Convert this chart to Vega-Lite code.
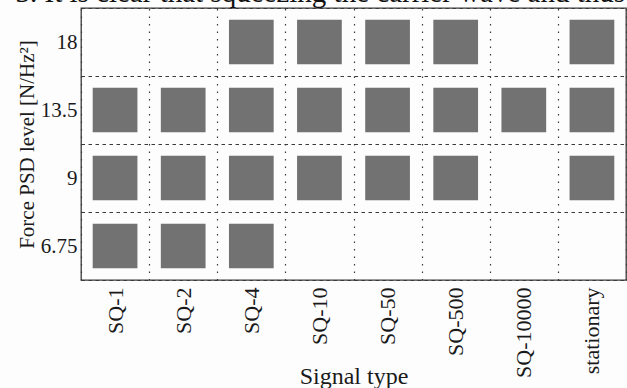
{
  "$schema": "https://vega.github.io/schema/vega-lite/v6.json",
  "width": 545,
  "height": 272,
  "autosize": {"type": "none"},
  "padding": {"left": 81, "top": 8, "right": 1, "bottom": 108},
  "background": "#fdfdfd",
  "config": {
    "view": {"stroke": "#3a3a3a", "strokeWidth": 1.3},
    "axis": {
      "labelFont": "Liberation Serif",
      "titleFont": "Liberation Serif",
      "labelColor": "#1a1a1a",
      "titleColor": "#1a1a1a",
      "titleFontWeight": "normal",
      "domain": false,
      "ticks": false,
      "tickBand": "extent",
      "gridColor": "#3a3a3a",
      "gridOpacity": 1,
      "gridWidth": 1.2
    }
  },
  "data": {
    "values": [
      {"signal": "SQ-4", "level": 18},
      {"signal": "SQ-10", "level": 18},
      {"signal": "SQ-50", "level": 18},
      {"signal": "SQ-500", "level": 18},
      {"signal": "stationary", "level": 18},
      {"signal": "SQ-1", "level": 13.5},
      {"signal": "SQ-2", "level": 13.5},
      {"signal": "SQ-4", "level": 13.5},
      {"signal": "SQ-10", "level": 13.5},
      {"signal": "SQ-50", "level": 13.5},
      {"signal": "SQ-500", "level": 13.5},
      {"signal": "SQ-10000", "level": 13.5},
      {"signal": "stationary", "level": 13.5},
      {"signal": "SQ-1", "level": 9},
      {"signal": "SQ-2", "level": 9},
      {"signal": "SQ-4", "level": 9},
      {"signal": "SQ-10", "level": 9},
      {"signal": "SQ-50", "level": 9},
      {"signal": "SQ-500", "level": 9},
      {"signal": "stationary", "level": 9},
      {"signal": "SQ-1", "level": 6.75},
      {"signal": "SQ-2", "level": 6.75},
      {"signal": "SQ-4", "level": 6.75}
    ]
  },
  "encoding": {
    "y": {
      "field": "level",
      "type": "ordinal",
      "sort": "descending",
      "scale": {"type": "band", "paddingInner": 0, "paddingOuter": 0},
      "axis": {
        "title": "Force PSD level [N/Hz²]",
        "titleFontSize": 21,
        "titlePadding": 3,
        "labelFontSize": 21,
        "labelPadding": 4,
        "grid": true,
        "gridDash": [3.5, 3.5]
      }
    }
  },
  "layer": [
    {
      "mark": {"type": "point", "shape": "square", "filled": true, "size": 2000, "color": "#727272", "opacity": 1},
      "encoding": {
        "x": {
          "field": "signal",
          "type": "nominal",
          "sort": ["SQ-1", "SQ-2", "SQ-4", "SQ-10", "SQ-50", "SQ-500", "SQ-10000", "stationary"],
          "scale": {"type": "band", "paddingInner": 0, "paddingOuter": 0},
          "axis": {
            "orient": "bottom",
            "title": "Signal type",
            "titleFontSize": 24,
            "titleBaseline": "alphabetic",
            "titleY": 103,
            "labelAngle": -90,
            "labelAlign": "right",
            "labelBaseline": "middle",
            "labelFontSize": 22,
            "labelPadding": 7,
            "grid": true,
            "gridDash": [1.5, 6]
          }
        }
      }
    },
    {
      "mark": {"type": "point", "opacity": 0},
      "encoding": {
        "x": {
          "field": "signal",
          "type": "nominal",
          "sort": ["SQ-1", "SQ-2", "SQ-4", "SQ-10", "SQ-50", "SQ-500", "SQ-10000", "stationary"],
          "scale": {"type": "band", "paddingInner": 0, "paddingOuter": 0},
          "axis": {
            "orient": "top",
            "labels": false,
            "grid": false,
            "title": "3. It is clear that squeezing the carrier wave and thus",
            "titleFontSize": 29,
            "titleAnchor": "start",
            "titleAlign": "left",
            "titleBaseline": "alphabetic",
            "titleX": -66,
            "titleY": -7,
            "titleColor": "#111"
          }
        }
      }
    }
  ],
  "resolve": {"axis": {"x": "independent"}}
}
